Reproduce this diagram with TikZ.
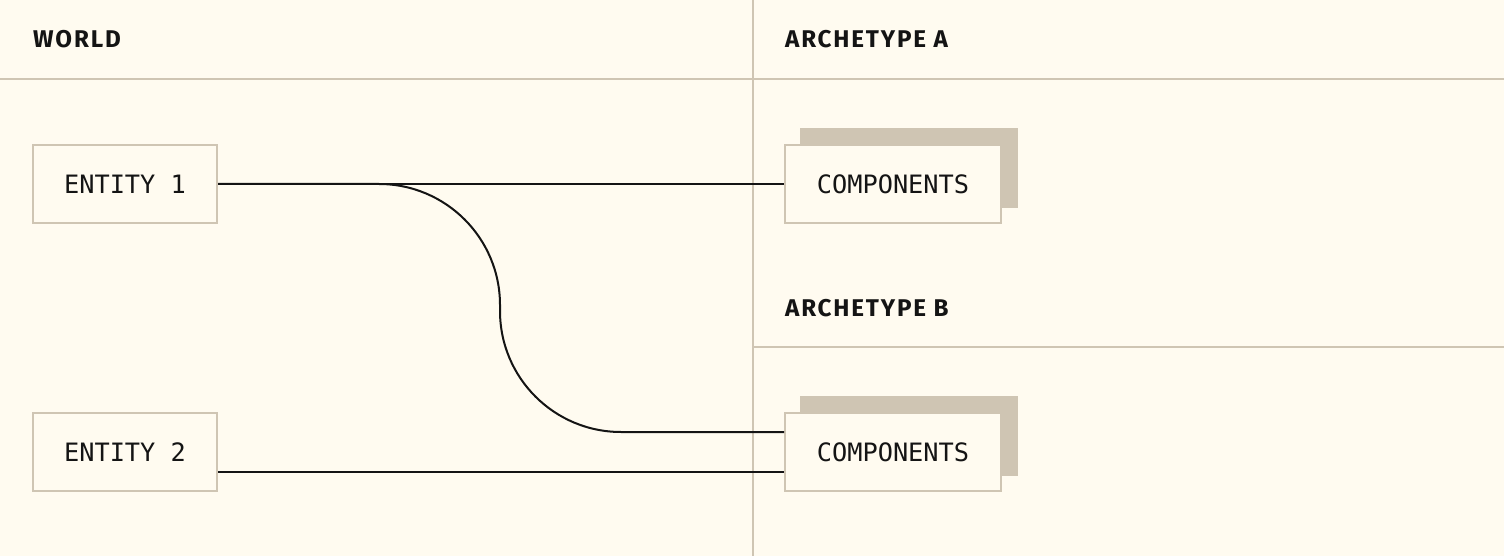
\documentclass[tikz,border=0pt]{standalone}
\usepackage{fontspec}
\newfontfamily\hdrfont[LetterSpace=7.5]{Fira Sans}
\newfontfamily\monofont{DejaVu Sans Mono}
\definecolor{bgc}{HTML}{FFFBF0}
\definecolor{rulec}{HTML}{CFC5B3}
\definecolor{inkc}{HTML}{141414}
\tikzset{
  rule/.style={draw=rulec, line width=2pt},
  hdr/.style={anchor=base west, inner sep=0pt, text=inkc, font=\hdrfont\bfseries\fontsize{24.2}{28}\selectfont},
  ebox/.style={draw=rulec, line width=2pt, fill=bgc, minimum width=184pt, minimum height=78pt, inner sep=0pt, text=inkc, font=\monofont\fontsize{25.3}{29}\selectfont},
  cbox/.style={ebox, minimum width=216pt},
  conn/.style={draw=inkc, line width=2pt},
  shadowc/.style={fill=rulec}
}
\begin{document}
\begin{tikzpicture}[x=1pt,y=-1pt]
\useasboundingbox (0,0) rectangle (1504,556);
\fill[bgc] (0,0) rectangle (1504,556);
% grid lines
\draw[rule] (0,79) -- (1504,79);
\draw[rule] (753,0) -- (753,556);
\draw[rule] (753,347) -- (1504,347);
% headers
\node[hdr] (hw) at (33,48) {WORLD};
\node[hdr] (ha) at (785,48) {ARCHETYPE A};
\node[hdr] (hb) at (785,316) {ARCHETYPE B};
% shadows
\fill[rulec] (800,128) rectangle (1018,208);
\fill[rulec] (800,396) rectangle (1018,476);
% boxes
\node[ebox] (e1) at (125,184) {ENTITY 1};
\node[ebox] (e2) at (125,452) {ENTITY 2};
\node[cbox] (ca) at (893,184) {COMPONENTS};
\node[cbox] (cb) at (893,452) {COMPONENTS};
% connectors
\coordinate (bend1) at (500,184);
\coordinate (bend2) at (500,432);
\coordinate (inb) at ([yshift=20pt]cb.west);
\draw[conn] (e1.east) -- (ca.west);
\draw[conn, rounded corners=121pt] (e1.east) -- (bend1) -- (bend2) -- (inb);
\draw[conn] ([yshift=-20pt]e2.east) -- ([yshift=-20pt]cb.west);
\end{tikzpicture}
\end{document}
